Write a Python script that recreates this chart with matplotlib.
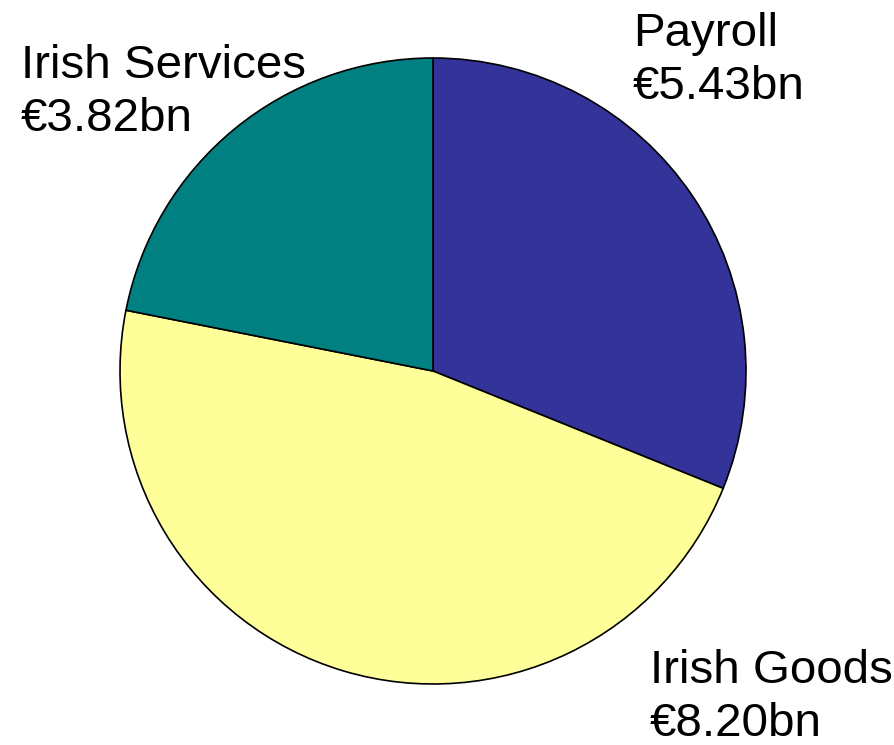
import matplotlib.pyplot as plt

# spending breakdown, billions of euro
names = ["Payroll", "Irish Goods", "Irish Services"]
values = [5.43, 8.20, 3.82]
colors = ["#333399", "#FFFF99", "#008080"]

W, H = 895, 745

fig = plt.figure(figsize=(W / 100, H / 100), dpi=100)
ax = fig.add_axes([0, 0, 1, 1])

ax.pie(values, colors=colors, startangle=90, counterclock=False,
       center=(433, H - 371), radius=313, frame=True,
       wedgeprops=dict(edgecolor="black", linewidth=1.2))
ax.set_xlim(0, W)
ax.set_ylim(0, H)
ax.set_aspect("equal")
ax.axis("off")

# label positions: left edge and top of text, in pixels from the top
label_pos = {"Payroll": (633, 12), "Irish Goods": (650, 649), "Irish Services": (21, 44)}
for name, val in zip(names, values):
    x, y = label_pos[name]
    ax.text(x, H - y, f"{name}\n€{val:.2f}bn", fontsize=34.2,
            family="Liberation Sans", ha="left", va="top", linespacing=1.27)

fig.savefig("out.png", dpi=100)
